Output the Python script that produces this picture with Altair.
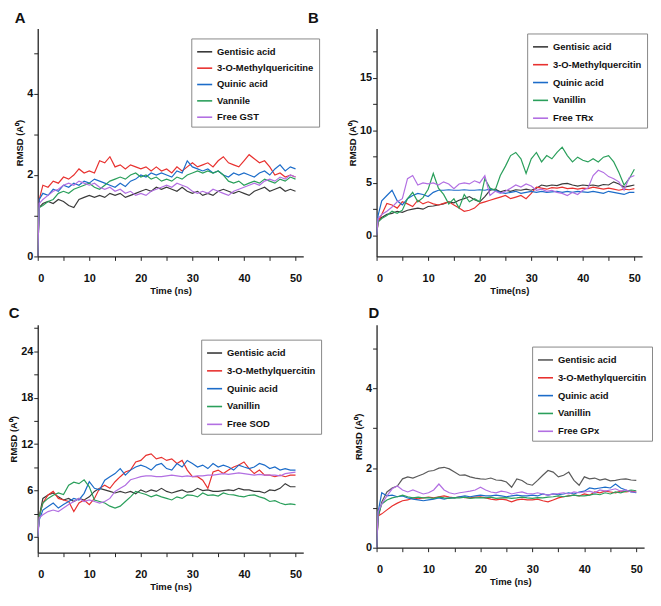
import altair as alt
import pandas as pd

TIME = [0, 0.3] + list(range(1, 51))
X_TICKS = [0, 5, 10, 15, 20, 25, 30, 35, 40, 45, 50]

COLORS = ["#3a3a3a", "#e8312f", "#1c6cc9", "#2a9f5b", "#b26fe2"]
COLORS_D = ["#5a5a5a", "#e8312f", "#1c6cc9", "#2a9f5b", "#b26fe2"]

LABELS_A = ["Gentisic acid", "3-O-Methylquericitine", "Quinic acid", "Vannile", "Free GST"]
LABELS_B = ["Gentisic acid", "3-O-Methylquercitin", "Quinic acid", "Vanillin", "Free TRx"]
LABELS_C = ["Gentisic acid", "3-O-Methylquercitin", "Quinic acid", "Vanillin", "Free SOD"]
LABELS_D = ["Gentisic acid", "3-O-Methylquercitin", "Quinic acid", "Vanillin", "Free GPx"]

# ---- Panel A (GST) ----
A_GEN = [0, 1.2, 1.3, 1.35, 1.3, 1.4, 1.35, 1.25, 1.2, 1.4, 1.45,
         1.5, 1.45, 1.5, 1.45, 1.55, 1.5, 1.55, 1.45, 1.5, 1.55,
         1.6, 1.65, 1.6, 1.7, 1.65, 1.7, 1.65, 1.6, 1.7, 1.6,
         1.55, 1.6, 1.5, 1.55, 1.5, 1.6, 1.65, 1.6, 1.55, 1.6,
         1.55, 1.5, 1.6, 1.65, 1.7, 1.6, 1.65, 1.7, 1.6, 1.65, 1.6]
A_RED = [0, 1.4, 1.75, 1.7, 1.85, 1.8, 1.95, 1.9, 2.0, 2.15, 2.05,
         2.1, 2.05, 2.35, 2.3, 2.45, 2.2, 2.25, 2.15, 2.25, 2.2,
         2.15, 2.2, 2.1, 2.2, 2.1, 2.15, 2.05, 2.2, 2.1, 2.2,
         2.3, 2.2, 2.25, 2.3, 2.2, 2.35, 2.45, 2.3, 2.25, 2.2,
         2.35, 2.5, 2.4, 2.3, 2.35, 2.2, 2.0, 2.05, 1.95, 2.0, 1.95]
A_BLUE = [0, 1.4, 1.55, 1.5, 1.65, 1.6, 1.75, 1.7, 1.8, 1.75, 1.85,
          1.8, 1.9, 1.85, 1.8, 1.75, 1.7, 1.8, 1.72, 1.85, 1.9,
          2.0, 1.95, 2.05, 2.0, 2.05, 2.0, 1.95, 2.1, 2.05, 2.35,
          2.2, 2.15, 2.1, 2.15, 2.05, 2.1, 2.0, 1.95, 2.05, 2.0,
          2.05, 2.0, 1.95, 2.05, 2.1, 2.0, 2.15, 2.25, 2.1, 2.2, 2.15]
A_GREEN = [0, 1.2, 1.25, 1.35, 1.4, 1.55, 1.6, 1.55, 1.65, 1.7, 1.75,
           1.8, 1.7, 1.65, 1.75, 1.85, 1.9, 1.95, 1.9, 2.0, 2.05,
           1.95, 2.0, 1.9, 1.95, 1.85, 1.9, 1.85, 1.95, 1.9, 2.0,
           2.05, 2.1, 2.05, 2.1, 2.05, 2.1, 2.0, 1.85, 1.8, 1.85,
           1.75, 1.8, 1.85, 1.8, 1.9, 1.85, 1.8, 1.9, 1.85, 1.95, 1.9]
A_PURPLE = [0, 1.3, 1.4, 1.5, 1.6, 1.65, 1.75, 1.8, 1.75, 1.85, 1.8,
            1.75, 1.8, 1.7, 1.65, 1.7, 1.6, 1.65, 1.55, 1.6, 1.5,
            1.55, 1.5, 1.6, 1.65, 1.7, 1.75, 1.7, 1.8, 1.75, 1.7,
            1.6, 1.55, 1.6, 1.55, 1.65, 1.6, 1.55, 1.5, 1.6, 1.65,
            1.7, 1.75, 1.8, 1.75, 1.85, 1.9, 1.85, 1.95, 1.9, 2.0, 1.95]

# ---- Panel B (TRx) ----
B_GEN = [0, 1.3, 1.7, 2.0, 2.1, 2.3, 2.2, 2.4, 2.5, 2.6, 2.5,
         2.75, 2.8, 2.9, 3.0, 3.2, 3.1, 3.35, 3.5, 3.7, 3.4,
         3.2, 3.7, 4.3, 4.4, 4.15, 4.3, 4.2, 4.35, 4.3, 4.4,
         4.3, 4.5, 4.8, 4.7, 4.8, 4.75, 4.9, 4.95, 4.8, 4.7,
         4.8, 4.75, 4.8, 4.7, 4.85, 4.8, 5.1, 4.9, 4.6, 4.7, 4.8]
B_RED = [0, 1.3, 2.0, 3.05, 2.9, 2.6, 3.2, 3.0, 2.75, 3.35, 3.0,
         3.2, 3.0, 2.9, 3.05, 3.2, 2.9, 2.6, 2.3, 2.4, 2.6,
         3.05, 3.2, 3.35, 3.5, 3.65, 3.8, 3.5, 3.65, 3.8, 3.5,
         4.0, 4.6, 4.5, 4.4, 4.55, 4.5, 4.6, 4.45, 4.5, 4.4,
         4.5, 4.45, 4.6, 4.5, 4.4, 4.5, 4.4, 4.3, 4.4, 4.35, 4.45]
B_BLUE = [0, 1.9, 3.3, 3.8, 4.3, 3.3, 2.9, 3.5, 3.8, 4.0, 3.9,
          3.7, 4.1, 4.3, 4.3, 4.35, 4.3, 4.3, 4.35, 4.3, 4.3,
          4.35, 4.3, 4.4, 4.3, 4.1, 4.0, 4.1, 4.2, 4.0, 4.1,
          4.2, 4.1, 4.2, 4.1, 4.15, 4.2, 4.1, 4.2, 4.1, 4.2,
          4.15, 4.1, 4.2, 4.1, 4.0, 4.2, 4.1, 4.0, 3.9, 4.1, 4.1]
B_GREEN = [0, 1.3, 1.6, 1.9, 2.3, 2.1, 2.4, 3.5, 4.1, 3.2, 3.6,
           4.4, 5.9, 4.5, 3.9, 3.0, 3.5, 2.6, 3.9, 3.2, 3.5,
           3.2, 5.4, 4.5, 4.3, 5.7, 6.6, 7.6, 7.9, 7.3, 5.9,
           7.3, 7.9, 7.0, 7.6, 7.3, 7.9, 8.4, 7.6, 7.0, 7.45,
           7.15, 7.0, 7.3, 7.0, 7.45, 7.6, 7.0, 6.0, 4.8, 5.4, 6.3]
B_PURPLE = [0, 1.6, 2.0, 2.3, 2.7, 3.2, 3.5, 5.4, 5.7, 4.8, 5.0,
            4.9, 5.0, 4.8, 5.1, 4.9, 4.45, 4.9, 5.0, 4.9, 5.2,
            5.0, 5.7, 3.8, 4.2, 4.0, 4.2, 4.5, 4.8, 4.6, 4.9,
            4.7, 4.3, 4.4, 4.2, 4.3, 4.1, 4.0, 3.8, 4.1, 3.9,
            4.3, 4.5, 5.7, 6.2, 6.0, 5.6, 5.4, 5.1, 4.3, 5.5, 5.7]

# ---- Panel C (SOD) ----
C_GEN = [0, 2.7, 5.0, 5.45, 5.7, 5.2, 4.8, 5.0, 4.6, 5.0, 4.8,
         5.2, 5.9, 6.3, 6.1, 5.9, 5.7, 5.9, 5.7, 5.9, 5.6,
         6.1, 5.8, 6.1, 5.9, 6.3, 5.9, 5.7, 5.9, 6.1, 5.8,
         5.9, 6.3, 6.0, 6.1, 5.9, 5.9, 6.0, 6.1, 6.0, 6.3,
         6.1, 6.1, 5.9, 5.9, 5.7, 6.1, 6.0, 6.3, 6.9, 6.5, 6.5]
C_RED = [0, 2.7, 4.4, 5.45, 5.9, 5.0, 4.8, 4.6, 3.3, 4.4, 4.8,
         4.2, 5.0, 6.3, 6.7, 6.3, 7.15, 7.8, 8.4, 8.65, 9.7,
         9.9, 10.55, 10.75, 10.1, 10.3, 9.9, 10.1, 9.5, 9.9, 8.65,
         7.8, 7.8, 7.35, 6.3, 8.4, 8.65, 8.2, 8.65, 9.05, 9.3,
         9.7, 8.85, 8.2, 8.65, 8.0, 8.0, 7.8, 8.0, 7.8, 8.0, 8.0]
C_BLUE = [0, 2.25, 3.5, 3.95, 4.4, 3.75, 4.2, 4.6, 5.0, 4.8, 5.65,
          7.15, 6.3, 6.1, 7.35, 7.8, 8.2, 8.85, 8.0, 8.65, 9.05,
          9.3, 9.05, 8.65, 9.3, 9.5, 8.85, 8.65, 9.5, 9.05, 9.9,
          9.5, 9.05, 9.3, 8.85, 9.5, 9.05, 9.3, 9.05, 8.65, 9.3,
          9.05, 8.85, 9.05, 9.5, 9.3, 8.85, 9.05, 8.65, 8.85, 8.65, 8.65]
C_GREEN = [0, 2.7, 4.4, 5.0, 5.4, 5.7, 5.5, 6.7, 7.1, 6.9, 7.4,
           6.5, 4.8, 4.6, 4.4, 4.0, 3.75, 4.0, 4.6, 5.2, 5.9,
           5.7, 5.5, 5.2, 5.45, 5.2, 5.0, 4.8, 5.2, 5.0, 5.45,
           5.4, 5.2, 5.7, 5.4, 5.45, 5.3, 5.7, 5.5, 5.45, 5.3,
           5.2, 5.4, 5.45, 5.2, 5.0, 4.6, 4.7, 4.4, 4.2, 4.3, 4.2]
C_PURPLE = [0, 2.5, 2.9, 3.3, 3.5, 3.3, 3.75, 4.2, 4.6, 5.0, 4.6,
            4.8, 4.6, 4.4, 4.6, 5.0, 5.9, 6.3, 6.7, 7.4, 7.6,
            7.8, 7.9, 7.9, 7.8, 7.8, 7.9, 8.0, 7.9, 7.8, 7.9,
            7.8, 7.9, 7.9, 8.0, 8.0, 8.1, 8.2, 8.1, 8.2, 8.3,
            8.2, 8.1, 8.0, 8.1, 8.0, 8.0, 8.0, 7.9, 8.2, 8.3, 8.4]

# ---- Panel D (GPx) ----
D_GEN = [0, 0.75, 1.15, 1.4, 1.5, 1.55, 1.73, 1.78, 1.75, 1.8, 1.85,
         1.92, 1.94, 2.0, 2.02, 1.98, 1.9, 1.82, 1.83, 1.78, 1.75,
         1.73, 1.72, 1.75, 1.7, 1.69, 1.65, 1.52, 1.73, 1.69, 1.6,
         1.57, 1.69, 1.82, 1.94, 1.9, 1.78, 1.82, 1.9, 1.69, 1.57,
         1.78, 1.73, 1.75, 1.7, 1.73, 1.68, 1.69, 1.72, 1.73, 1.7, 1.69]
D_RED = [0, 0.8, 0.85, 0.95, 1.05, 1.12, 1.18, 1.2, 1.25, 1.23, 1.25,
         1.27, 1.25, 1.28, 1.3, 1.27, 1.25, 1.28, 1.26, 1.25, 1.27,
         1.28, 1.25, 1.22, 1.2, 1.22, 1.2, 1.15, 1.2, 1.22, 1.2,
         1.2, 1.22, 1.18, 1.15, 1.2, 1.25, 1.28, 1.3, 1.32, 1.3,
         1.35, 1.32, 1.4, 1.38, 1.42, 1.4, 1.38, 1.42, 1.4, 1.42, 1.4]
D_BLUE = [0, 0.9, 1.38, 1.3, 1.32, 1.28, 1.3, 1.25, 1.22, 1.2, 1.18,
          1.2, 1.22, 1.25, 1.22, 1.25, 1.25, 1.28, 1.3, 1.28, 1.3,
          1.32, 1.3, 1.3, 1.32, 1.3, 1.28, 1.3, 1.32, 1.3, 1.3,
          1.32, 1.3, 1.35, 1.32, 1.35, 1.33, 1.35, 1.38, 1.35, 1.4,
          1.42, 1.5, 1.48, 1.5, 1.52, 1.5, 1.6, 1.5, 1.45, 1.4, 1.38]
D_GREEN = [0, 0.8, 1.1, 1.2, 1.25, 1.28, 1.32, 1.28, 1.25, 1.27, 1.25,
           1.26, 1.24, 1.27, 1.25, 1.24, 1.26, 1.25, 1.27, 1.24, 1.25,
           1.26, 1.25, 1.27, 1.24, 1.25, 1.26, 1.24, 1.25, 1.27, 1.25,
           1.24, 1.26, 1.25, 1.27, 1.28, 1.3, 1.28, 1.3, 1.32, 1.3,
           1.3, 1.32, 1.35, 1.33, 1.38, 1.35, 1.4, 1.38, 1.42, 1.45, 1.43]
D_PURPLE = [0, 0.9, 1.1, 1.3, 1.48, 1.55, 1.45, 1.4, 1.45, 1.4, 1.35,
            1.38, 1.45, 1.6, 1.45, 1.38, 1.35, 1.38, 1.4, 1.42, 1.45,
            1.52, 1.45, 1.4, 1.38, 1.42, 1.4, 1.35, 1.38, 1.4, 1.36,
            1.35, 1.38, 1.35, 1.32, 1.35, 1.36, 1.38, 1.35, 1.4, 1.38,
            1.4, 1.42, 1.38, 1.45, 1.42, 1.45, 1.48, 1.42, 1.45, 1.4, 1.4]

FONT = "Liberation Sans, Arial, sans-serif"


def make_df(labels, series):
    rows = []
    for lab, vals in zip(labels, series):
        for t, v in zip(TIME, vals):
            rows.append({"t": t, "v": v, "s": lab})
    return pd.DataFrame(rows)


def panel(letter, labels, series, ydom, yticks, ystep, width, height,
          xtitle, title_dx, title_offset, lx, ly, row_pad, colors):
    df = make_df(labels, series)
    return alt.Chart(df).mark_line(strokeWidth=1.2, clip=True).encode(
        x=alt.X("t:Q", scale=alt.Scale(domain=[0, 51.5], nice=False, zero=False),
                axis=alt.Axis(values=X_TICKS, title=xtitle, labelPadding=12,
                              titlePadding=2,
                              labelExpr="datum.value % 10 == 0 ? datum.label : ''")),
        y=alt.Y("v:Q", scale=alt.Scale(domain=ydom, nice=False, zero=False),
                axis=alt.Axis(values=yticks, title="RMSD (A\u2070)", labelPadding=1,
                              titlePadding=2,
                              labelExpr=f"datum.value % {ystep} == 0 ? datum.label : ''")),
        color=alt.Color("s:N", scale=alt.Scale(domain=labels, range=colors),
                        legend=alt.Legend(orient="none", legendX=lx, legendY=ly,
                                          title=None, rowPadding=row_pad)),
        order=alt.Order("t:Q"),
    ).properties(
        width=width, height=height,
        title=alt.TitleParams(letter, anchor="start", frame="bounds",
                              fontSize=15, font=FONT, fontWeight="bold",
                              dx=title_dx, offset=title_offset, color="#111"),
    )


pA = panel("A", LABELS_A, [A_GEN, A_RED, A_BLUE, A_GREEN, A_PURPLE],
           [0, 5.6], [0, 1, 2, 3, 4, 5], 2, 268, 230, "Time (ns)", 0, 3, 155, 10, 3.5, COLORS)
pB = panel("B", LABELS_B, [B_GEN, B_RED, B_BLUE, B_GREEN, B_PURPLE],
           [-2, 19.7], [0, 2.5, 5, 7.5, 10, 12.5, 15, 17.5], 5, 268, 230, "Time(ns)", -40, 3, 152, 5, 5, COLORS)
pC = panel("C", LABELS_C, [C_GEN, C_RED, C_BLUE, C_GREEN, C_PURPLE],
           [-2, 27.4], [0, 3, 6, 9, 12, 15, 18, 21, 24, 27], 6, 268, 230, "Time (ns)", 0, 4, 165, 15, 5, COLORS)
pD = panel("D", LABELS_D, [D_GEN, D_RED, D_BLUE, D_GREEN, D_PURPLE],
           [0, 5.6], [0, 1, 2, 3, 4, 5], 2, 270, 225, "Time (ns)", 15, 4, 157, 22, 5, COLORS_D)

chart = alt.concat(
    pA, pB, pC, pD, columns=2, bounds="flush",
    spacing=alt.RowColnumber(row=69, column=74),
).resolve_scale(
    color="independent", x="independent", y="independent"
).properties(padding=0).configure_view(strokeWidth=0).configure_axis(
    grid=False,
    domainColor="#222", domainWidth=1.3,
    tickColor="#222", tickSize=4, tickWidth=1,
    labelFont=FONT, labelFontSize=11, labelFontWeight="bold", labelColor="#111",
    titleFont=FONT, titleFontSize=9.5, titleFontWeight="bold", titleColor="#111",
).configure_legend(
    strokeColor="#888", fillColor="white", padding=5,
    labelFont=FONT, labelFontSize=9.5, labelFontWeight="bold", labelColor="#111",
    symbolType="stroke", symbolStrokeWidth=1.6, symbolSize=230,
    labelLimit=200, labelOffset=4,
)

chart.save("out.html", embed_options={"renderer": "svg", "actions": False})
